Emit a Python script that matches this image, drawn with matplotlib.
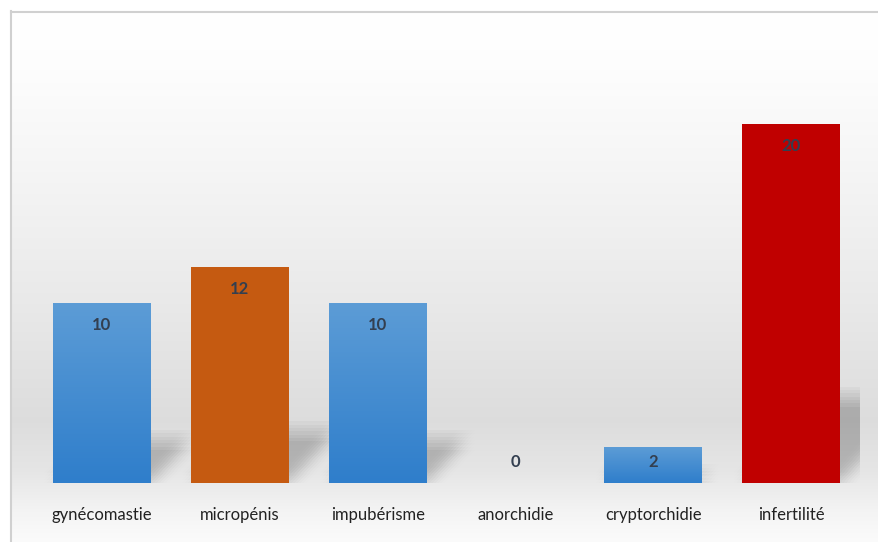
import matplotlib.pyplot as plt
import numpy as np
from matplotlib.colors import LinearSegmentedColormap
from matplotlib.patches import Polygon, Rectangle

# data
categories = ['gynécomastie', 'micropénis', 'impubérisme', 'anorchidie', 'cryptorchidie', 'infertilité']
values = [10, 12, 10, 0, 2, 20]
colors = ['blue', '#c55a11', 'blue', 'blue', 'blue', '#c00000']

W, H = 879, 542
fig = plt.figure(figsize=(W/100, H/100), dpi=100)

# background: white frame + grey gradient inside the chart box
bg = fig.add_axes([0, 0, 1, 1], zorder=0)
bg.set_xlim(0, W); bg.set_ylim(H, 0); bg.axis('off')
ys = np.arange(H)
stops_y = [0, 11, 60, 160, 300, 420, 470, 510, 542]
stops_v = [1.0, 1.0, 0.995, 0.965, 0.915, 0.865, 0.90, 0.955, 0.985]
shade = np.interp(ys, stops_y, stops_v)
img = np.repeat(shade[:, None], W, axis=1)
img[:11, :] = 1.0
img[:, :11] = 1.0
bg.imshow(np.dstack([img, img, img]), extent=[0, W, H, 0], aspect='auto', interpolation='bilinear')
bg.plot([11.5, 11.5], [11, H], color='#d0d0d0', lw=1.5)
bg.plot([11, W], [11.5, 11.5], color='#d0d0d0', lw=1.5)

# axes placed so that bar centres and base line match
x0, x1 = 33, 860
y_base, y_top = 483, 43
ax = fig.add_axes([x0/W, 1 - y_base/H, (x1 - x0)/W, (y_base - y_top)/H], zorder=1)
ax.patch.set_alpha(0)
ax.set_xlim(-0.5, 5.5)
ax.set_ylim(0, 24.5)
ax.axis('off')

px_y = (y_base - y_top) / 24.5
px_x = (x1 - x0) / 6.0
bw = 98 / px_x

blue_cmap = LinearSegmentedColormap.from_list('b', ['#2f7ecb', '#5c9cd6'])
grad = np.linspace(0, 1, 100)[:, None]

# blur offsets for the soft shadows
offs = np.linspace(-1, 1, 7)
n_layers = len(offs) ** 2
layer_alpha = 1 - (1 - 0.17) ** (1 / n_layers)
bx, by = 9 / px_x, 10 / px_y

for i, (v, c) in enumerate(zip(values, colors)):
    xl, xr = i - bw/2, i + bw/2
    if v > 0:
        # soft shadow behind the bar
        dy = 0.24 * v
        dx = 0.22 * v * px_y / px_x
        for ox in offs:
            for oy in offs:
                sx, sy = ox * bx, oy * by
                poly = Polygon([(xl + sx, sy), (xr + sx, sy), (xr + dx + sx, dy + sy),
                                (xl + dx + sx, dy + sy)],
                               closed=True, facecolor='black', edgecolor='none',
                               alpha=layer_alpha, zorder=1)
                ax.add_patch(poly)
        if c == 'blue':
            ax.imshow(grad, extent=[xl, xr, 0, v], origin='lower', cmap=blue_cmap,
                      aspect='auto', zorder=2)
        else:
            ax.add_patch(Rectangle((xl, 0), bw, v, facecolor=c, edgecolor='none', zorder=2))
    ly = max(v - 22/px_y, 21/px_y)
    ax.text(i, ly, str(v), ha='center', va='center', fontsize=12, fontweight='bold',
            color='#333f50', family='Lato', zorder=3)
    ax.text(i, -32/px_y, categories[i], ha='center', va='center', fontsize=12,
            color='#222222', family='Lato', zorder=3, clip_on=False)

ax.set_xlim(-0.5, 5.5)
ax.set_ylim(0, 24.5)

fig.savefig('out.png', dpi=100)
